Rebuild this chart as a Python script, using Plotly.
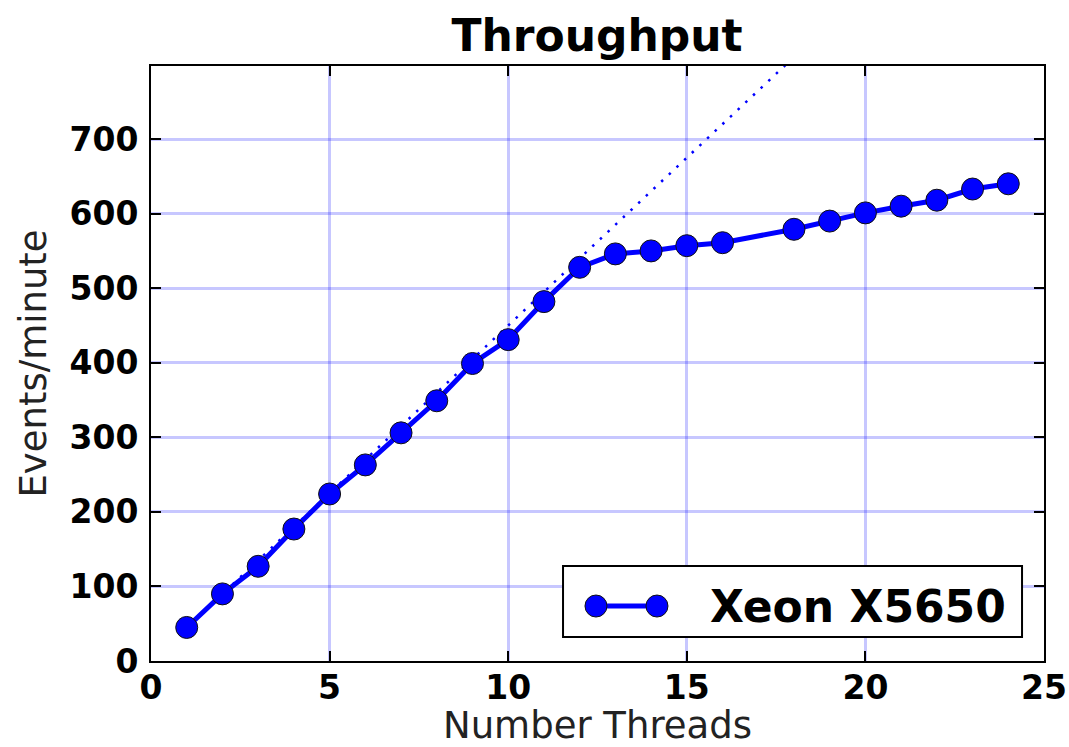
import plotly.graph_objects as go

# Measured throughput of the Xeon X5650 box
threads = [1, 2, 3, 4, 5, 6, 7, 8, 9, 10, 11, 12, 13, 14, 15, 16,
           18, 19, 20, 21, 22, 23, 24]
events = [45, 90, 127, 177, 224, 263, 306, 349, 399, 431, 482, 528, 546,
          550, 557, 561, 579, 590, 601, 610, 618, 633, 640]
series_name = "Xeon X5650"

x_ticks = [0, 5, 10, 15, 20, 25]
y_ticks = [0, 100, 200, 300, 400, 500, 600, 700]

# ideal linear scaling from the single-thread rate
ideal = [t * events[0] for t in threads]

BLUE = "#0000ff"
FONT = "DejaVu Sans"

fig = go.Figure()
fig.add_trace(go.Scatter(
    x=threads, y=ideal, mode="lines",
    line=dict(color=BLUE, width=2.5, dash="2.5px,8px"),
    showlegend=False, hoverinfo="skip",
))
fig.add_trace(go.Scatter(
    x=threads, y=events, mode="lines+markers", name=series_name,
    line=dict(color=BLUE, width=5),
    marker=dict(color=BLUE, size=22, line=dict(color="#111111", width=1)),
    showlegend=False,
))

axis_common = dict(
    showline=True, linecolor="black", linewidth=2, mirror="allticks",
    ticks="inside", ticklen=10, tickwidth=1.5, tickcolor="black",
    showgrid=True, gridcolor="rgba(0,0,255,0.22)", gridwidth=2.5,
    zeroline=False, automargin=False,
    tickfont=dict(family=FONT, size=33, color="black", weight="bold"),
)

fig.update_xaxes(
    range=[0, 25], tickvals=x_ticks, ticklabelstandoff=-4,
    title=dict(text="Number Threads", standoff=2,
               font=dict(family=FONT, size=37, color="#222222")),
    **axis_common,
)
fig.update_yaxes(
    range=[0, 798], tickvals=y_ticks, ticklabelstandoff=4,
    title=dict(text="Events/minute", standoff=12,
               font=dict(family=FONT, size=37, color="#222222")),
    **axis_common,
)

# legend box drawn in paper coordinates
lx0, lx1, ly0, ly1 = 0.4614, 0.9754, 0.0403, 0.1597
ly = 0.0924
m0, m1 = 0.4983, 0.5666
shapes = [
    dict(type="rect", xref="paper", yref="paper", x0=lx0, x1=lx1, y0=ly0, y1=ly1,
         fillcolor="white", line=dict(color="black", width=2), layer="above"),
    dict(type="line", xref="paper", yref="paper", x0=m0, x1=m1, y0=ly, y1=ly,
         line=dict(color=BLUE, width=5), layer="above"),
]
for mx in (m0, m1):
    shapes.append(dict(
        type="circle", xref="paper", yref="paper", xsizemode="pixel", ysizemode="pixel",
        xanchor=mx, yanchor=ly, x0=-11, x1=11, y0=-11, y1=11,
        fillcolor=BLUE, line=dict(color="#111111", width=1), layer="above",
    ))

fig.update_layout(
    width=1069, height=747,
    margin=dict(l=151, r=25, t=66, b=86, autoexpand=False),
    paper_bgcolor="white", plot_bgcolor="white",
    title=dict(text="Throughput", x=0.5585, xanchor="center",
               y=0.952, yanchor="middle", yref="container",
               font=dict(family=FONT, size=44, color="black", weight="bold")),
    shapes=shapes,
    annotations=[dict(
        text=series_name, xref="paper", yref="paper", x=0.6237, y=ly,
        xanchor="left", yanchor="middle", showarrow=False,
        font=dict(family=FONT, size=44, color="black", weight="bold"),
    )],
    showlegend=False,
)

fig.write_html("out.html")
